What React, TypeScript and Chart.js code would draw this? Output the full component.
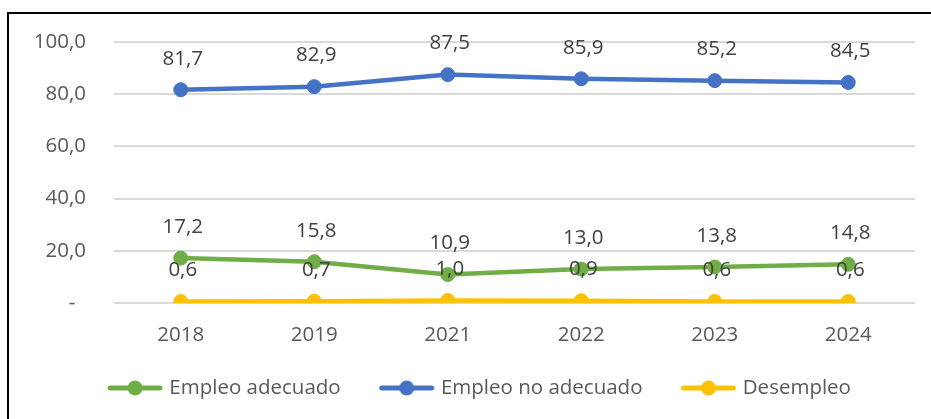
import React, { useEffect, useRef } from 'react';
import { Chart, registerables } from 'chart.js';

Chart.register(...registerables);

const categories = ['2018', '2019', '2021', '2022', '2023', '2024'];
const empleoAdecuado = [17.2, 15.8, 10.9, 13.0, 13.8, 14.8];
const empleoNoAdecuado = [81.7, 82.9, 87.5, 85.9, 85.2, 84.5];
const desempleo = [0.6, 0.7, 1.0, 0.9, 0.6, 0.6];
const seriesNames = ['Empleo adecuado', 'Empleo no adecuado', 'Desempleo'];
const seriesColors = ['#70AD47', '#4472C4', '#FFC000'];

const FONT = '"Open Sans", sans-serif';
const FS = 20.5;

const fmt = (v: number) => v.toFixed(1).replace('.', ',');

function makeLegendIcon(color: string) {
  const c = document.createElement('canvas');
  c.width = 56;
  c.height = 16;
  const ctx = c.getContext('2d')!;
  ctx.strokeStyle = color;
  ctx.lineWidth = 5;
  ctx.lineCap = 'round';
  ctx.beginPath();
  ctx.moveTo(3, 8);
  ctx.lineTo(53, 8);
  ctx.stroke();
  ctx.fillStyle = color;
  ctx.beginPath();
  ctx.arc(28, 8, 7.5, 0, Math.PI * 2);
  ctx.fill();
  return c;
}

const dataLabelPlugin = {
  id: 'dataLabels',
  afterDatasetsDraw(chart: any) {
    const ctx = chart.ctx;
    ctx.save();
    ctx.font = `${FS}px ${FONT}`;
    ctx.fillStyle = '#404040';
    ctx.textAlign = 'center';
    ctx.textBaseline = 'middle';
    chart.data.datasets.forEach((ds: any, i: number) => {
      const meta = chart.getDatasetMeta(i);
      meta.data.forEach((pt: any, j: number) => {
        ctx.fillText(fmt(ds.data[j]), pt.x + 2, pt.y - 31);
      });
    });
    ctx.restore();
  },
};

// Excel centres the legend over a slightly wider chart frame; shift it to match.
const legendShiftPlugin = {
  id: 'legendShift',
  afterLayout(chart: any) {
    const lg = chart.legend;
    if (!lg) return;
    const dx = 23.5;
    const dy = -10.75;
    lg.left += dx;
    lg.right += dx;
    lg.top += dy;
    lg.bottom += dy;
  },
};

export default function App() {
  const ref = useRef<HTMLCanvasElement>(null);

  useEffect(() => {
    const icons = seriesColors.map(makeLegendIcon);
    const values = [empleoAdecuado, empleoNoAdecuado, desempleo];
    const chart = new Chart(ref.current!, {
      type: 'line',
      data: {
        labels: categories,
        datasets: values.map((d, i) => ({
          label: seriesNames[i],
          data: d,
          borderColor: seriesColors[i],
          backgroundColor: seriesColors[i],
          borderWidth: 4.5,
          pointRadius: 7,
          pointBorderWidth: 1,
          pointBackgroundColor: seriesColors[i],
          pointBorderColor: seriesColors[i],
          tension: 0,
          fill: false,
        })),
      },
      options: {
        responsive: false,
        animation: false,
        layout: { padding: { left: 0, right: 16, top: 42, bottom: 0 } },
        plugins: {
          tooltip: { enabled: false },
          legend: {
            position: 'bottom',
            labels: {
              usePointStyle: true,
              pointStyleWidth: 48,
              padding: 42,
              color: '#595959',
              font: { family: FONT, size: FS },
              generateLabels: (c: any) => {
                const items = (Chart.defaults.plugins.legend.labels as any).generateLabels(c);
                return items.map((it: any, i: number) => ({ ...it, pointStyle: icons[i] }));
              },
            },
          },
        },
        scales: {
          x: {
            offset: true,
            grid: { display: false, drawTicks: false },
            border: { display: false },
            ticks: { color: '#595959', font: { family: FONT, size: FS }, padding: 20 },
            afterFit: (s: any) => {
              s.height = 43.5;
            },
          },
          y: {
            min: 0,
            max: 100,
            grid: { color: '#d9d9d9', lineWidth: 2, drawTicks: false },
            border: { display: false },
            ticks: {
              stepSize: 20,
              color: '#595959',
              font: { family: FONT, size: FS },
              padding: 28,
              callback: (v: any) => (Number(v) === 0 ? '-  ' : fmt(Number(v))),
            },
            afterFit: (s: any) => {
              s.width = 114;
            },
          },
        },
      } as any,
      plugins: [dataLabelPlugin, legendShiftPlugin],
    });
    return () => chart.destroy();
  }, []);

  return (
    <div
      style={{
        position: 'absolute',
        left: 0,
        top: 0,
        width: 931,
        height: 419,
        overflow: 'hidden',
        background: '#fff',
      }}
    >
      <div
        style={{
          position: 'absolute',
          left: 7,
          top: 12,
          width: 2000,
          height: 2000,
          borderLeft: '2px solid #000',
          borderTop: '2px solid #000',
        }}
      />
      <canvas
        ref={ref}
        width={931}
        height={419}
        style={{ position: 'absolute', left: 0, top: 0, display: 'block' }}
      />
    </div>
  );
}
